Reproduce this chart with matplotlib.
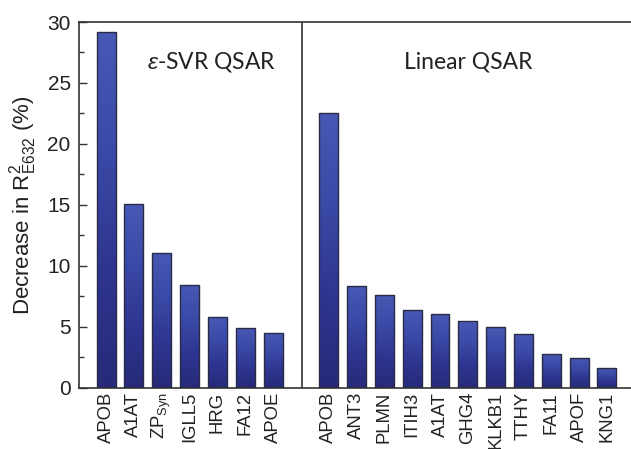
import numpy as np
import matplotlib
matplotlib.use("Agg")
import matplotlib.pyplot as plt
from matplotlib.colors import LinearSegmentedColormap
from matplotlib.ticker import MultipleLocator

plt.rcParams['font.family'] = ['Liberation Sans', 'DejaVu Sans']
plt.rcParams['mathtext.fontset'] = 'custom'
plt.rcParams['mathtext.rm'] = 'Liberation Sans'
plt.rcParams['mathtext.it'] = 'Liberation Sans:italic'

svr_labels = ["APOB", "A1AT", "ZP$_{\\mathregular{Syn}}$", "IGLL5", "HRG", "FA12", "APOE"]
svr_values = [29.15, 15.08, 11.07, 8.44, 5.82, 4.94, 4.48]
lin_labels = ["APOB", "ANT3", "PLMN", "ITIH3", "A1AT", "GHG4", "KLKB1", "TTHY", "FA11", "APOF", "KNG1"]
lin_values = [22.57, 8.36, 7.65, 6.39, 6.07, 5.49, 4.97, 4.45, 2.76, 2.43, 1.61]
yticks = [0, 5, 10, 15, 20, 25, 30]

fig = plt.figure(figsize=(6.31, 4.49), dpi=100)
ax = fig.add_axes([0.1252, 0.136, 0.8785, 0.815])

x_svr = np.arange(len(svr_values))
x_lin = np.arange(len(lin_values)) + len(svr_values) + 1
xs = np.concatenate([x_svr, x_lin])
vals = svr_values + lin_values
labels = svr_labels + lin_labels

bars = ax.bar(xs, vals, width=0.68, facecolor='none', edgecolor='#2a2a48', linewidth=1.0, zorder=3)
cmap = LinearSegmentedColormap.from_list('g', ['#272a78', '#2e3590', '#3a4aa6', '#4759b4'])
grad = np.linspace(0, 1, 256).reshape(-1, 1)
for b in bars:
    x0 = b.get_x(); w = b.get_width(); h = b.get_height()
    im = ax.imshow(grad, extent=[x0, x0 + w, 0, h], origin='lower', aspect='auto',
                   cmap=cmap, zorder=2)
    im.set_clip_path(b)

ax.set_xlim(-0.975, 18.95)
ax.set_ylim(0, 30)
ax.set_yticks(yticks)
ax.yaxis.set_minor_locator(MultipleLocator(2.5))
ax.tick_params(axis='y', which='major', direction='in', length=6, width=1, labelsize=15, colors='#333333', labelcolor='#222222', pad=6)
ax.tick_params(axis='y', which='minor', direction='in', length=3.5, width=1, colors='#333333')
ax.set_xticks(xs)
ax.set_xticklabels(labels, rotation=90, fontsize=13.3, color='#222222')
ax.tick_params(axis='x', length=0, pad=3)

for s in ['left', 'top', 'bottom']:
    ax.spines[s].set_color('#333333')
    ax.spines[s].set_linewidth(1.2)
ax.spines['right'].set_visible(False)

ax.axvline(len(svr_values) + 0.04, color='#333333', linewidth=1.2, zorder=4)

ax.set_ylabel("Decrease in R$^{\\mathregular{2}}_{\\mathregular{E632}}$ (%)", fontsize=16, color='#222222', labelpad=6)

ax.text(3.8, 26.7, "$\\varepsilon$-SVR QSAR", fontsize=16.5, ha='center', va='center',
        family=['Lato', 'DejaVu Sans'], color='#222222')
ax.text(13.0, 26.7, "Linear QSAR", fontsize=16.5, ha='center', va='center',
        family=['Lato', 'DejaVu Sans'], color='#222222')

fig.savefig("out.png", dpi=100)
